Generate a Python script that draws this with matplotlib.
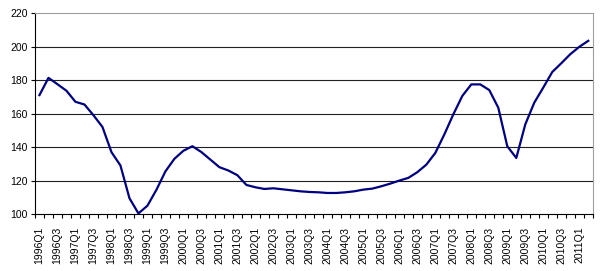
import numpy as np
import matplotlib
matplotlib.use("Agg")
import matplotlib.pyplot as plt

plt.rcParams['font.family'] = ['Liberation Sans', 'DejaVu Sans']

# quarterly index, 1996Q1 .. 2011Q2
quarters = [f"{y}Q{q}" for y in range(1996, 2012) for q in range(1, 5)][:62]
values = [171, 181.3, 177.5, 173.6, 167, 165.4, 159, 152, 137, 129,
          109.5, 100.4, 105, 114.5, 125.5, 133, 137.8, 140.5, 137, 132.5,
          128, 126, 123.2, 117.4, 116, 115, 115.4, 114.8, 114.2, 113.6,
          113.2, 113, 112.6, 112.6, 113, 113.6, 114.6, 115.2, 116.6, 118.2,
          120, 121.6, 125, 129.5, 136.5, 147.5, 159.5, 170.5, 177.4, 177.4,
          174, 163.5, 140.5, 133.5, 153.5, 166.5, 175.5, 184.8, 190, 195.4,
          199.8, 203.4]
y_ticks = [100, 120, 140, 160, 180, 200, 220]

fig = plt.figure(figsize=(6.03, 2.71), dpi=100)
ax = fig.add_axes([0.058, 0.21, 0.925, 0.742])

x = np.arange(len(values))
ax.plot(x, values, color='#000080', linewidth=1.6, zorder=3)

ax.set_xlim(-0.5, len(values) - 0.5)
ax.set_ylim(100, 220)

# horizontal gridlines
for v in y_ticks[1:-1]:
    ax.axhline(v, color='#202020', linewidth=0.8, zorder=1)

ax.set_yticks(y_ticks)
ax.tick_params(axis='y', labelsize=7.5, length=3, width=0.8, pad=2)

# tick marks between categories, labels every second quarter
ax.set_xticks(np.arange(-0.5, len(values), 1))
ax.set_xticklabels([])
ax.tick_params(axis='x', which='major', length=3, width=0.8)
ax.set_xticks(x[::2], minor=True)
ax.set_xticklabels(quarters[::2], minor=True, rotation=90)
ax.tick_params(axis='x', which='minor', length=0, labelsize=7.5, pad=9)

for side in ['top', 'right']:
    ax.spines[side].set_color('#a0a0a0')
    ax.spines[side].set_linewidth(0.8)
for side in ['left', 'bottom']:
    ax.spines[side].set_color('black')
    ax.spines[side].set_linewidth(0.8)

fig.savefig('out.png', dpi=100)
